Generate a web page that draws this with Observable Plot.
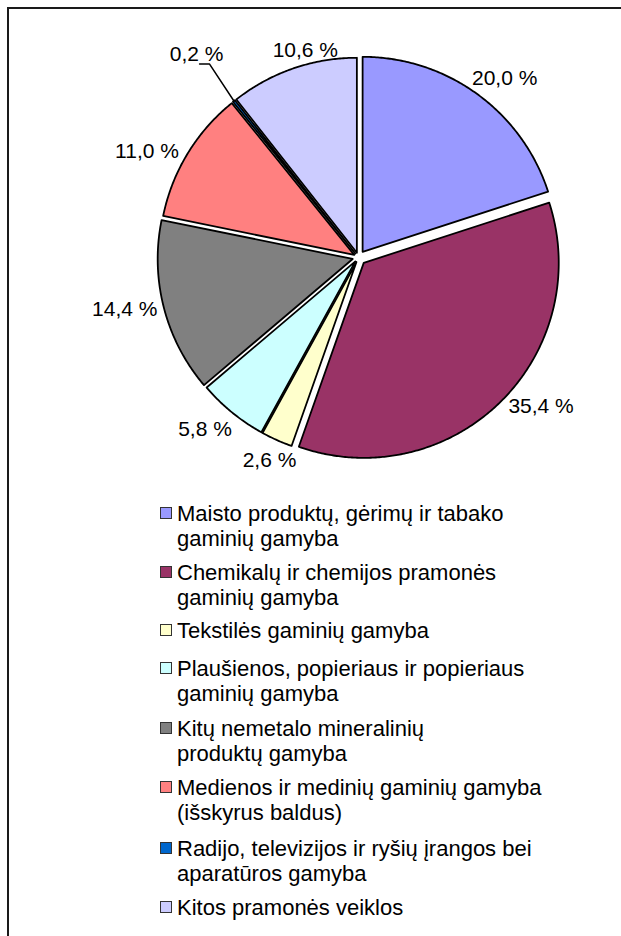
<!DOCTYPE html>
<html><head><meta charset="utf-8">
<script src="https://cdn.jsdelivr.net/npm/d3@7"></script>
<script src="https://cdn.jsdelivr.net/npm/@observablehq/plot@0.6"></script>
<style>
html,body{margin:0;padding:0;background:#fff;width:621px;height:936px;overflow:hidden;font-family:"Liberation Sans",Arial,sans-serif;}
#frame{position:absolute;left:7px;top:7px;width:700px;height:1000px;border:2px solid #1a1a1a;box-sizing:border-box;}
#chart{position:absolute;left:0;top:0;}
#legend{position:absolute;left:0;top:0;width:621px;height:936px;}
.sw{position:absolute;width:10px;height:10px;border:1px solid #333;box-sizing:content-box;}
.lt{position:absolute;font-size:22px;line-height:25px;white-space:pre;color:#000;}
</style></head>
<body>
<div id="frame"></div>
<div id="chart"></div>
<div id="legend"></div>
<script>
// ---- data ----
const categories = [
  "Maisto produktų, gėrimų ir tabako\ngaminių gamyba",
  "Chemikalų ir chemijos pramonės\ngaminių gamyba",
  "Tekstilės gaminių gamyba",
  "Plaušienos, popieriaus ir popieriaus\ngaminių gamyba",
  "Kitų nemetalo mineralinių\nproduktų gamyba",
  "Medienos ir medinių gaminių gamyba\n(išskyrus baldus)",
  "Radijo, televizijos ir ryšių įrangos bei\naparatūros gamyba",
  "Kitos pramonės veiklos"
];
const values = [20.0, 35.4, 2.6, 5.8, 14.4, 11.0, 0.2, 10.6];

// ---- styles / layout ----
const colors = ["#9999FF","#993366","#FFFFCC","#CCFFFF","#808080","#FF8080","#0066CC","#CCCCFF"];
const explodePx = [7, 7.5, 5, 5, 6, 5, 5, 5];
// label nudges (px) relative to the default outside position on each slice's bisector
const labelNudge = [[11, 7], [22, -16], [5, -7], [-8, -6], [-11, -5], [-15, 13], [0, 0], [22, 10]];
const legendCenters = [513, 572, 630, 668, 728, 787, 848, 907];
const W = 621, H = 490, R = 195, CX = 358, CY = 257, LABEL_DIST = 230;

const fmt = v => d3.format(".1f")(v).replace(".", ",") + " %";
const total = d3.sum(values);
let acc = 0;
const slices = values.map((v, i) => {
  const a0 = acc / total * 2 * Math.PI; acc += v;
  const a1 = acc / total * 2 * Math.PI;
  return {i, cat: categories[i], v, a0, a1, mid: (a0 + a1) / 2};
});

const poly = [];
for (const s of slices) {
  const e = explodePx[s.i] / R;
  const ox = e * Math.sin(s.mid), oy = e * Math.cos(s.mid);
  poly.push({cat: s.cat, x: ox, y: oy});
  const n = Math.max(2, Math.ceil((s.a1 - s.a0) / (Math.PI / 360)));
  for (let k = 0; k <= n; k++) {
    const a = s.a0 + (s.a1 - s.a0) * k / n;
    poly.push({cat: s.cat, x: ox + Math.sin(a), y: oy + Math.cos(a)});
  }
}

const labelData = [];
const leader = [];
for (const s of slices) {
  const sn = Math.sin(s.mid), cs = Math.cos(s.mid);
  const small = s.v < 1;
  const d = small ? (R + 65) / R : LABEL_DIST / R;
  const [nx, ny] = labelNudge[s.i];
  const lx = d * sn + nx / R, ly = d * cs - ny / R;
  labelData.push({x: lx, y: ly, text: fmt(s.v)});
  if (small) {
    const e = explodePx[s.i] / R;
    leader.push({x: e * sn + sn, y: e * cs + cs});
    leader.push({x: lx + 13 / R, y: ly - 10 / R});
    leader.push({x: lx + 3 / R, y: ly - 10 / R});
  }
}

const chart = Plot.plot({
  width: W, height: H, margin: 0,
  x: {domain: [-CX / R, (W - CX) / R], range: [0, W], axis: null},
  y: {domain: [-(H - CY) / R, CY / R], range: [H, 0], axis: null},
  color: {domain: categories, range: colors},
  style: {fontFamily: "'Liberation Sans', Arial, sans-serif", background: "transparent", overflow: "visible"},
  marks: [
    Plot.line(poly, {x: "x", y: "y", z: "cat", fill: "cat", stroke: "#000", strokeWidth: 1.8, curve: "linear-closed", strokeLinejoin: "round"}),
    Plot.line(leader, {x: "x", y: "y", stroke: "#000", strokeWidth: 1.5}),
    Plot.text(labelData, {x: "x", y: "y", text: "text", fontSize: 21, fill: "#000"})
  ]
});
document.getElementById("chart").appendChild(chart);

const color = chart.scale("color");
const legend = document.getElementById("legend");
categories.forEach((c, i) => {
  const cy = legendCenters[i];
  const sw = document.createElement("div");
  sw.className = "sw";
  sw.style.left = "160px";
  sw.style.top = (cy - 6) + "px";
  sw.style.background = color.apply(c);
  legend.appendChild(sw);
  const t = document.createElement("div");
  t.className = "lt";
  t.style.left = "177px";
  t.style.top = (cy - 12.5) + "px";
  t.textContent = c;
  legend.appendChild(t);
});
</script>
</body></html>
